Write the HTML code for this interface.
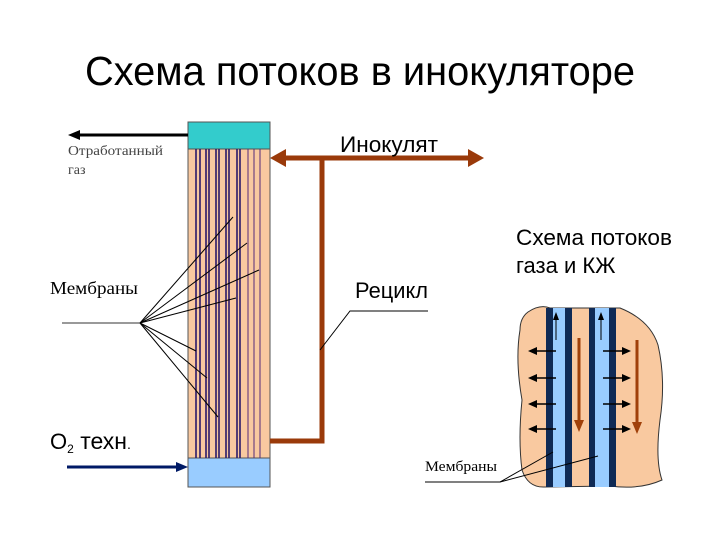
<!DOCTYPE html>
<html><head><meta charset="utf-8"><style>
body{margin:0;background:#fff}
svg{display:block;font-family:"Liberation Serif","DejaVu Serif",serif}
</style></head><body>
<svg width="720" height="540" viewBox="0 0 720 540" xmlns="http://www.w3.org/2000/svg">
<text x="360" y="85" font-size="41" text-anchor="middle" font-family="Liberation Sans, sans-serif" textLength="550" lengthAdjust="spacingAndGlyphs">Схема потоков в инокуляторе</text>
<rect x="188" y="149" width="82" height="309" fill="#f9c9a0" stroke="#555" stroke-width="1"/>
<rect x="188" y="122" width="82" height="27" fill="#33cccc" stroke="#555"/>
<rect x="188" y="458" width="82" height="29" fill="#99ccff" stroke="#555"/>
<g stroke="#2a1a6a" stroke-width="1.6">
<line x1="196" y1="149" x2="196" y2="458"/><line x1="200" y1="149" x2="200" y2="458"/>
<line x1="206" y1="149" x2="206" y2="458"/><line x1="209" y1="149" x2="209" y2="458"/>
<line x1="216" y1="149" x2="216" y2="458"/><line x1="219" y1="149" x2="219" y2="458"/>
<line x1="226" y1="149" x2="226" y2="458"/><line x1="229" y1="149" x2="229" y2="458"/>
<line x1="237" y1="149" x2="237" y2="458"/><line x1="240" y1="149" x2="240" y2="458"/>
</g>
<g stroke="#552a7a" stroke-width="1">
<line x1="248" y1="149" x2="248" y2="458"/><line x1="254" y1="149" x2="254" y2="458"/><line x1="260" y1="149" x2="260" y2="458"/>
</g>
<g stroke="#000" stroke-width="1">
<line x1="62" y1="323" x2="140" y2="323" stroke="#333"/>
<line x1="140" y1="323" x2="233" y2="217"/><line x1="140" y1="323" x2="247" y2="243"/>
<line x1="140" y1="323" x2="259" y2="270"/><line x1="140" y1="323" x2="236" y2="298"/>
<line x1="140" y1="323" x2="196" y2="351"/><line x1="140" y1="323" x2="207" y2="378"/>
<line x1="140" y1="323" x2="218" y2="417"/>
</g>
<line x1="188" y1="135" x2="78" y2="135" stroke="#000" stroke-width="3"/>
<polygon points="68,135 80,130 80,140" fill="#000"/>
<line x1="67" y1="467" x2="178" y2="467" stroke="#001a66" stroke-width="3"/>
<polygon points="188,467 176,462 176,472" fill="#001a66"/>
<text x="68" y="155" font-size="14" fill="#444" textLength="95" lengthAdjust="spacingAndGlyphs">Отработанный</text>
<text x="68" y="174" font-size="14" fill="#444">газ</text>
<text x="50" y="294" font-size="18" textLength="88" lengthAdjust="spacingAndGlyphs">Мембраны</text>
<text x="50" y="449" font-size="22" font-family="Liberation Sans, sans-serif">O<tspan font-size="12" dy="4">2</tspan><tspan dy="-4" font-size="23"> техн</tspan><tspan font-size="14">.</tspan></text>
<g stroke="#9a3a0a" stroke-width="5" fill="none">
<line x1="282" y1="158" x2="470" y2="158"/>
<polyline points="322,158 322,441 270,441"/>
</g>
<polygon points="270,158 286,149 286,167" fill="#9a3a0a"/>
<polygon points="484,158 468,149 468,167" fill="#9a3a0a"/>
<g font-family="Liberation Sans, sans-serif" font-size="22">
<text x="340" y="152" textLength="98" lengthAdjust="spacingAndGlyphs">Инокулят</text>
<text x="355" y="298" textLength="73" lengthAdjust="spacingAndGlyphs">Рецикл</text>
<text x="516" y="245" textLength="156" lengthAdjust="spacingAndGlyphs">Схема потоков</text>
<text x="516" y="273">газа и КЖ</text>
</g>
<polyline points="428,311 350,311 320,350" stroke="#000" fill="none"/>
<path d="M528,312 Q540,304 550,308 L620,308 Q650,320 658,345 Q666,380 660,420 Q655,460 662,480 Q640,490 610,486 L545,487 Q528,488 522,470 Q518,440 522,400 Q515,360 520,330 Q520,318 528,312 Z" fill="#f9c9a0" stroke="#333" stroke-width="1"/>
<rect x="546" y="308" width="7" height="179" fill="#0f2a55"/>
<rect x="553" y="308" width="12" height="179" fill="#99ccff"/>
<rect x="565" y="308" width="7" height="179" fill="#0f2a55"/>
<rect x="589" y="308" width="6" height="179" fill="#0f2a55"/>
<rect x="595" y="308" width="14" height="179" fill="#99ccff"/>
<rect x="609" y="308" width="7" height="179" fill="#0f2a55"/>
<g stroke="#000" stroke-width="1.5">
<line x1="556" y1="351" x2="534" y2="351"/><line x1="556" y1="378" x2="534" y2="378"/>
<line x1="556" y1="404" x2="534" y2="404"/><line x1="556" y1="429" x2="534" y2="429"/>
<line x1="603" y1="351" x2="625" y2="351"/><line x1="603" y1="378" x2="625" y2="378"/>
<line x1="603" y1="404" x2="625" y2="404"/><line x1="603" y1="429" x2="625" y2="429"/>
<line x1="556" y1="340" x2="556" y2="318" stroke-width="1"/><line x1="601" y1="340" x2="601" y2="318" stroke-width="1"/>
</g>
<g fill="#000">
<polygon points="528,351 537,347 537,355"/><polygon points="528,378 537,374 537,382"/>
<polygon points="528,404 537,400 537,408"/><polygon points="528,429 537,425 537,433"/>
<polygon points="631,351 622,347 622,355"/><polygon points="631,378 622,374 622,382"/>
<polygon points="631,404 622,400 622,408"/><polygon points="631,429 622,425 622,433"/>
<polygon points="556,312 553,320 559,320"/><polygon points="601,312 598,320 604,320"/>
</g>
<g stroke="#a0400a" stroke-width="3">
<line x1="579" y1="338" x2="579" y2="422"/><line x1="637" y1="340" x2="637" y2="424"/>
</g>
<polygon points="579,432 574,420 584,420" fill="#a0400a"/>
<polygon points="637,434 632,422 642,422" fill="#a0400a"/>
<text x="425" y="471" font-size="15" textLength="72" lengthAdjust="spacingAndGlyphs">Мембраны</text>
<polyline points="425,482 500,482 553,452" stroke="#000" fill="none"/>
<line x1="500" y1="482" x2="598" y2="456" stroke="#000"/>
</svg>
</body></html>
